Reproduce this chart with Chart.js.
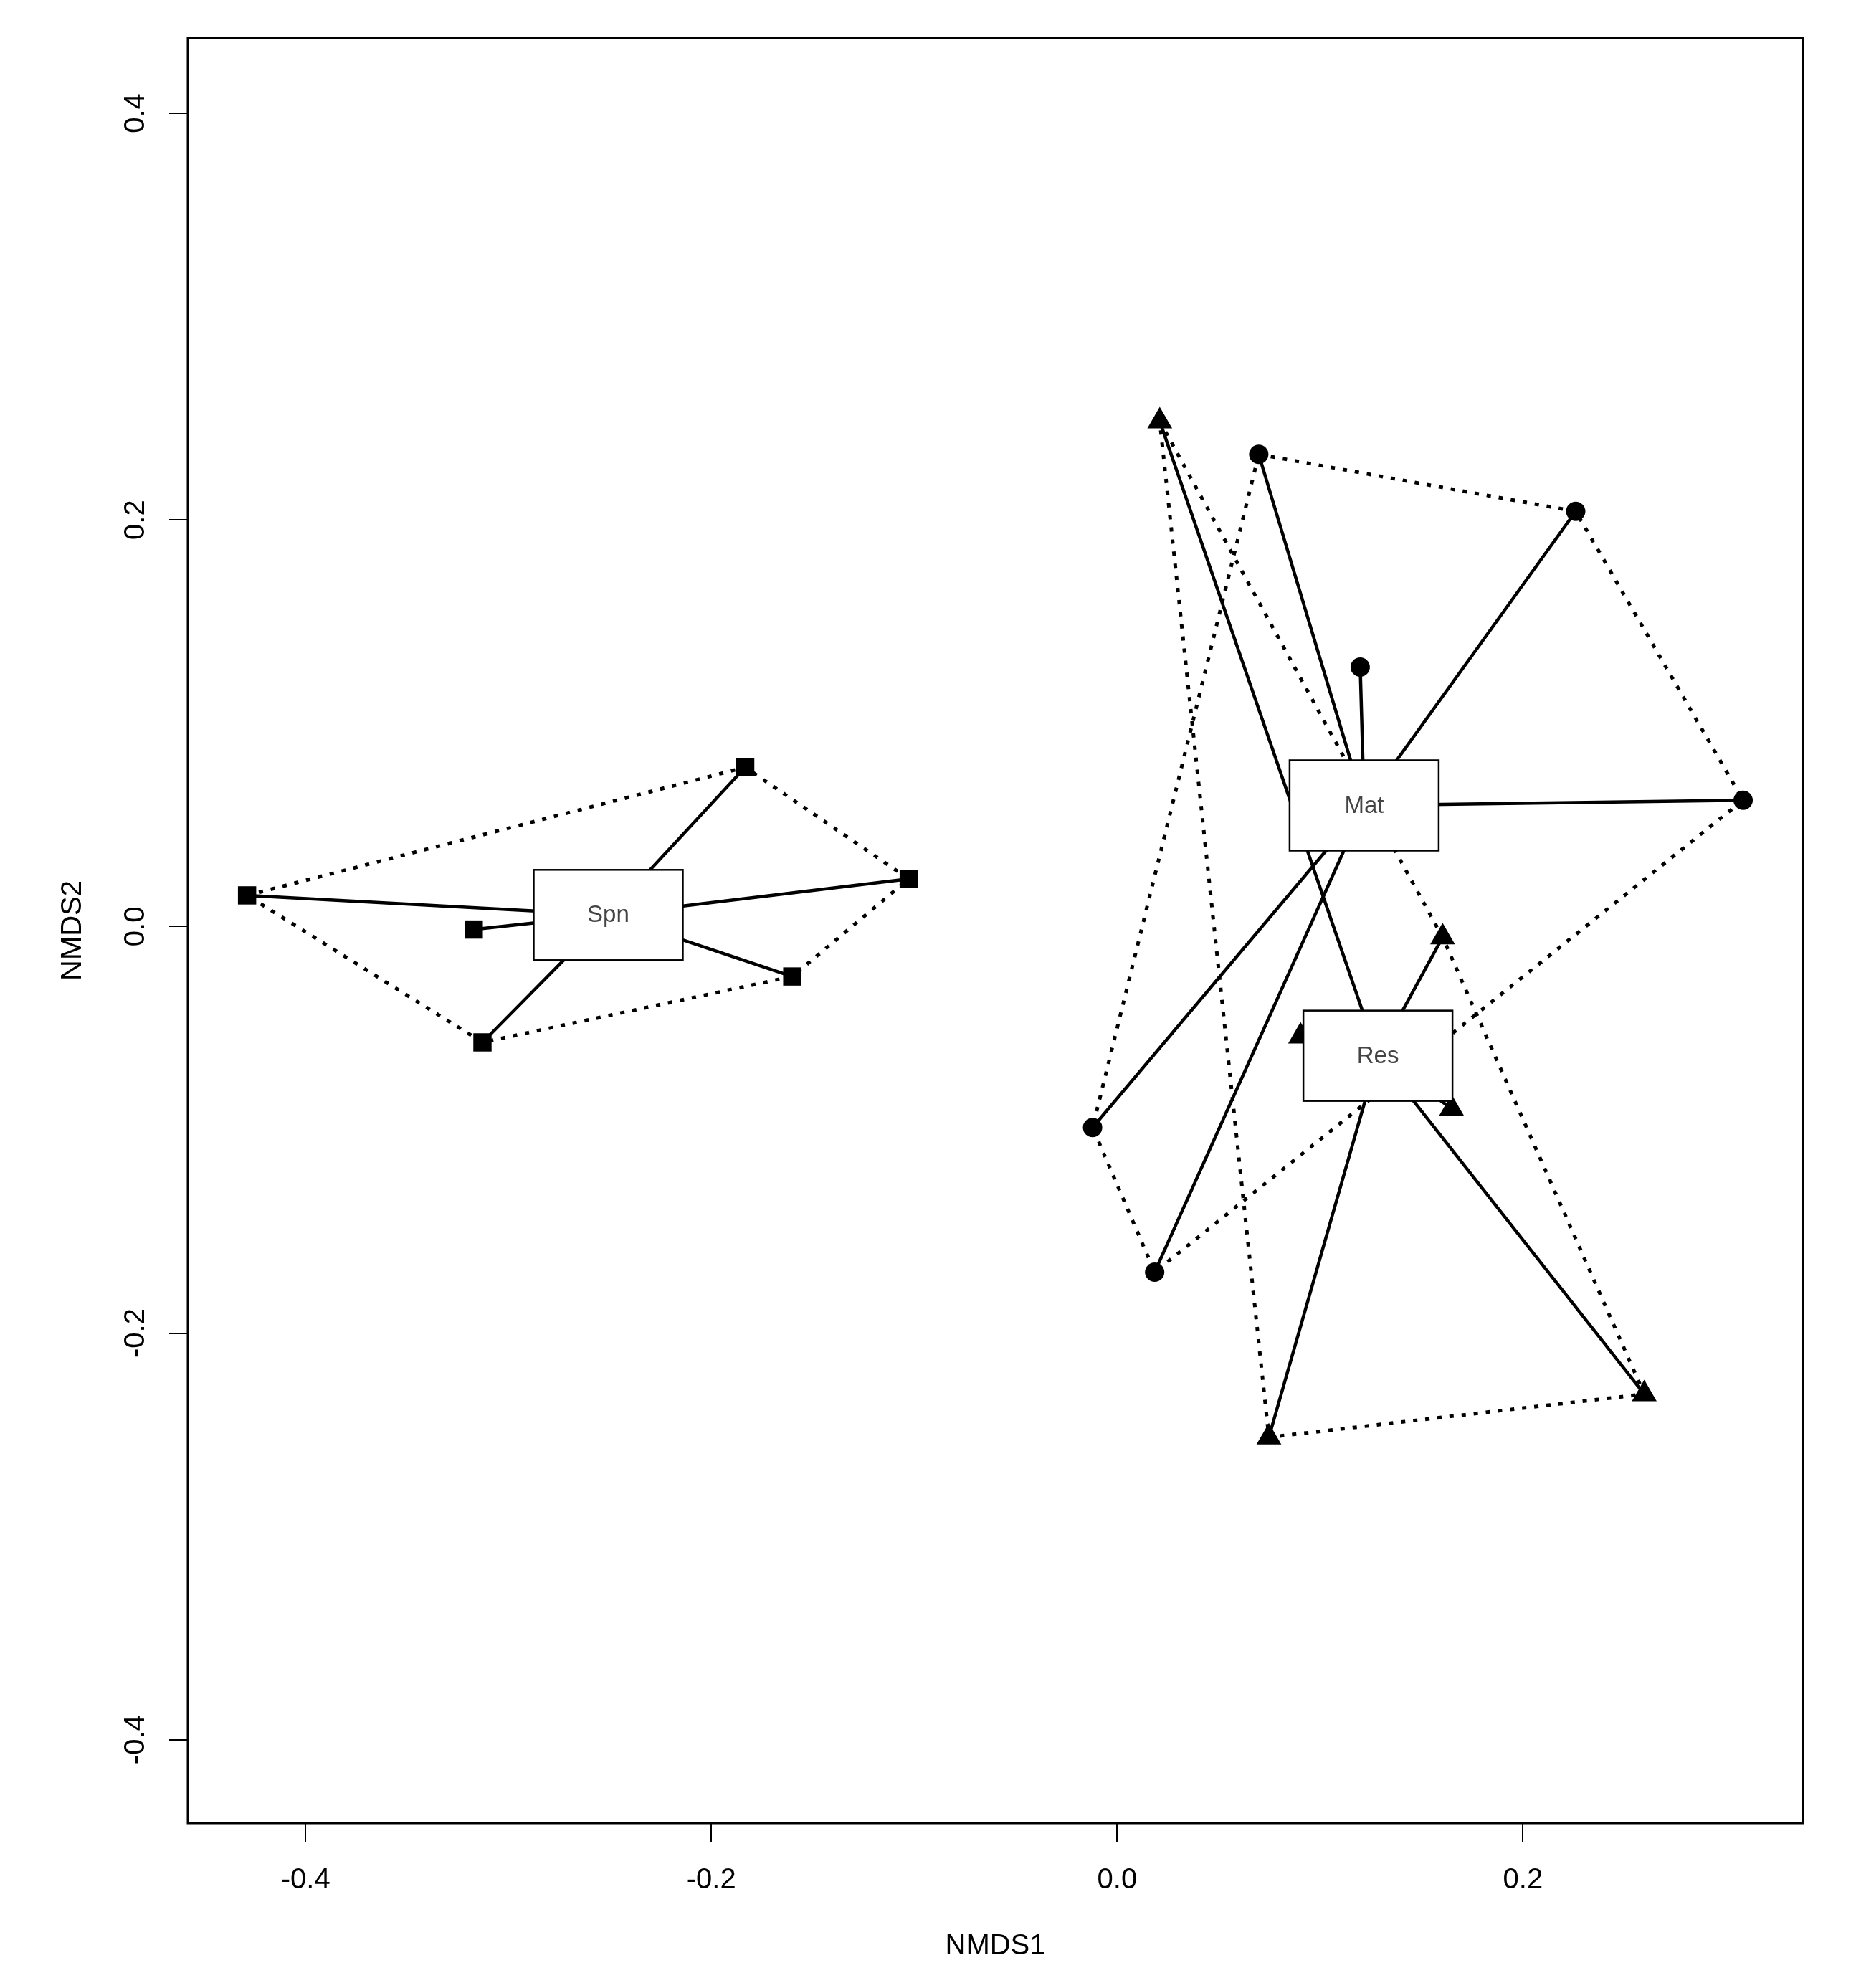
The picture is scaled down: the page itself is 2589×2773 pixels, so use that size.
<!DOCTYPE html>
<html>
<head>
<meta charset="utf-8">
<script src="https://cdn.jsdelivr.net/npm/chart.js@4.4.1/dist/chart.umd.min.js"></script>
<style>
  html, body { margin: 0; padding: 0; background: #fff; }
  canvas { display: block; }
</style>
</head>
<body>
<canvas id="nmds" width="2589" height="2773"></canvas>
<script>
// NMDS ordination plot, R ordihull + ordispider look

// site scores per group
const spnX = [-0.4288, -0.3171, -0.3128, -0.1833, -0.1027, -0.1601];
const spnY = [0.0153, -0.0015, -0.0570, 0.0783, 0.0234, -0.0246];
const matX = [0.0698, 0.2260, 0.1198, 0.3085, -0.0121, 0.0185];
const matY = [0.2322, 0.2042, 0.1276, 0.0621, -0.0989, -0.1700];
const resX = [0.0210, 0.1604, 0.0904, 0.1648, 0.2598, 0.0748];
const resY = [0.2485, -0.0053, -0.0540, -0.0895, -0.2300, -0.2512];

// convex hull vertex order (indices into the arrays above)
const spnHull = [0, 3, 4, 5, 2, 0];
const matHull = [0, 1, 3, 5, 4, 0];
const resHull = [0, 1, 4, 5, 0];

const xTicks = [-0.4, -0.2, 0.0, 0.2];
const xTickLabels = ['-0.4', '-0.2', '0.0', '0.2'];
const yTicks = [-0.4, -0.2, 0.0, 0.2, 0.4];
const yTickLabels = ['-0.4', '-0.2', '0.0', '0.2', '0.4'];

const FONT = '"Liberation Sans", Arial, sans-serif';

function toPoints(xs, ys) {
    return xs.map((x, i) => ({ x: x, y: ys[i] }));
}
function mean(a) {
    return a.reduce((s, v) => s + v, 0) / a.length;
}

const groups = [
    { name: 'Spn', pts: toPoints(spnX, spnY), hull: spnHull, style: 'rect', radius: 18 },
    { name: 'Mat', pts: toPoints(matX, matY), hull: matHull, style: 'circle', radius: 13.5 },
    { name: 'Res', pts: toPoints(resX, resY), hull: resHull, style: 'triangle', radius: 20 }
];
groups.forEach(g => {
    g.cx = mean(g.pts.map(p => p.x));
    g.cy = mean(g.pts.map(p => p.y));
});

const datasets = [];
// symbols
groups.forEach(g => {
    datasets.push({
        label: g.name,
        data: g.pts,
        pointStyle: g.style,
        pointRadius: g.radius,
        pointBackgroundColor: '#000',
        pointBorderWidth: 0,
        showLine: false
    });
});
// spiders: centroid -> each site
groups.forEach(g => {
    const c = { x: g.cx, y: g.cy };
    datasets.push({
        label: g.name + ' spider',
        data: g.pts.flatMap(p => [c, p]),
        showLine: true,
        borderColor: '#000',
        borderWidth: 4.5,
        pointRadius: 0
    });
});
// hulls (dotted)
groups.forEach(g => {
    datasets.push({
        label: g.name + ' hull',
        data: g.hull.map(i => g.pts[i]),
        showLine: true,
        borderColor: '#000',
        borderWidth: 5,
        borderDash: [6, 11],
        borderCapStyle: 'butt',
        pointRadius: 0
    });
});

// white label boxes at group centroids + plot frame
const labelBoxes = {
    id: 'labelBoxes',
    afterDatasetsDraw(chart) {
        const ctx = chart.ctx;
        const sx = chart.scales.x, sy = chart.scales.y;
        ctx.save();
        groups.forEach(g => {
            const px = sx.getPixelForValue(g.cx);
            const py = sy.getPixelForValue(g.cy);
            const w = 208, h = 126;
            ctx.fillStyle = '#fff';
            ctx.fillRect(px - w / 2, py - h / 2, w, h);
            ctx.lineWidth = 2.5;
            ctx.strokeStyle = '#000';
            ctx.strokeRect(px - w / 2, py - h / 2, w, h);
            ctx.fillStyle = '#444';
            ctx.font = '33px ' + FONT;
            ctx.textAlign = 'center';
            ctx.textBaseline = 'middle';
            ctx.fillText(g.name, px, py + 1);
        });
        const a = chart.chartArea;
        ctx.lineWidth = 3;
        ctx.strokeStyle = '#000';
        ctx.strokeRect(a.left, a.top, a.right - a.left, a.bottom - a.top);
        ctx.restore();
    }
};

new Chart(document.getElementById('nmds').getContext('2d'), {
    type: 'scatter',
    data: { datasets: datasets },
    plugins: [labelBoxes],
    options: {
        responsive: false,
        animation: false,
        events: [],
        devicePixelRatio: 1,
        layout: { padding: { top: 53, right: 74, left: 0, bottom: 0 } },
        plugins: { legend: { display: false }, tooltip: { enabled: false } },
        scales: {
            x: {
                type: 'linear',
                min: -0.458,
                max: 0.338,
                afterBuildTicks: axis => { axis.ticks = xTicks.map(v => ({ value: v })); },
                afterFit: scale => { scale.height = 230; },
                ticks: {
                    callback: (v, i) => xTickLabels[i],
                    color: '#000',
                    padding: 30,
                    maxRotation: 0,
                    font: { family: FONT, size: 40 }
                },
                grid: { drawOnChartArea: false, drawTicks: true, tickLength: 26, color: '#000', lineWidth: 2 },
                border: { display: false },
                title: {
                    display: true,
                    text: 'NMDS1',
                    color: '#000',
                    font: { family: FONT, size: 40 },
                    padding: { top: 0, bottom: 34 }
                }
            },
            y: {
                type: 'linear',
                min: -0.441,
                max: 0.437,
                afterBuildTicks: axis => { axis.ticks = yTicks.map(v => ({ value: v })); },
                afterFit: scale => { scale.width = 262; },
                ticks: {
                    callback: (v, i) => yTickLabels[i],
                    color: '#000',
                    padding: 12,
                    minRotation: 90,
                    maxRotation: 90,
                    crossAlign: 'center',
                    font: { family: FONT, size: 40 }
                },
                grid: { drawOnChartArea: false, drawTicks: true, tickLength: 26, color: '#000', lineWidth: 2 },
                border: { display: false },
                title: {
                    display: true,
                    text: 'NMDS2',
                    color: '#000',
                    font: { family: FONT, size: 40 },
                    padding: { top: 78, bottom: 0 }
                }
            }
        }
    }
});
</script>
</body>
</html>
